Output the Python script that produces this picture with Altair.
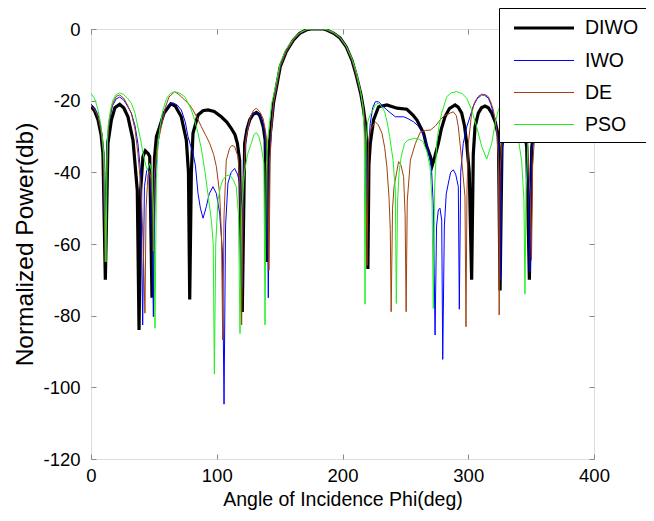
import altair as alt
import pandas as pd

names = ["DIWO", "IWO", "DE", "PSO"]
colors = ["#000000", "#0000ff", "#a0410d", "#22ee22"]
widths = [3.2, 1, 1, 1]

x_ticks = [0, 100, 200, 300, 400]
y_ticks = [-120, -100, -80, -60, -40, -20, 0]

main_x = [145.2, 147.6, 150.5, 155, 160.9, 166, 171.5, 175, 180, 185, 187.5, 193, 198, 203, 207.5, 211, 214.5]
main_y = [-20.5, -16, -10.5, -6.5, -3.1, -1.2, -0.2, 0, 0, 0, -0.3, -1.2, -2.5, -5, -8.7, -13, -18]

diwo_x = [0, 3, 5.6, 8, 9.5, 11.4, 13.5, 16.2, 19, 22.8, 26, 29.4, 33.4, 36.8, 38.2, 39.5, 41.3, 43.2, 45.5, 46.7,
          48.5, 50.5, 52, 54.6, 58, 63.5, 67, 71.8, 75.8, 77.5, 78.5, 79.8, 81.1, 85.1, 89, 93, 98, 103.6, 108, 111.5,
          114.5, 116.4, 118.2, 120.3, 122.2, 124, 126.2, 129, 131.6, 134, 135.4, 137, 138.5, 139.7, 140.8, 141.8] + main_x + [
          216.5, 218.5, 219.5, 220.2, 221, 222.1, 224.7, 228.7, 235.3, 243.3, 251.2, 256, 259.2, 264.5, 267, 269.8,
          271.4, 273.5, 276.2, 278.5, 281.5, 285, 289.5, 292, 294.8, 297, 298.8, 300.8, 302.7, 304, 305.4, 308, 310.5,
          313.3, 316, 318.7, 321.5, 324, 325.3, 326.8, 329, 333, 337, 341, 344, 346.5, 348.6, 350.5, 353, 356, 360]
diwo_y = [-21.5, -23, -25.4, -29.5, -34.7, -70, -31.9, -25.4, -22, -21, -22, -24.5, -31, -45, -84, -45, -35.6, -34, -34.8, -35.6,
          -75, -36, -30, -27.3, -23.5, -20.9, -21.5, -24.5, -31, -40, -75.5, -40, -29.1, -24, -22.8, -22.6, -23, -24.5, -26, -27.7,
          -29.5, -31.9, -36.6, -79, -31.9, -28, -25.4, -23.8, -23.3, -24, -25.4, -27.3, -31, -65, -36, -31.9] + main_y + [
          -22, -27, -35, -67, -38, -31.9, -25.4, -21.7, -21.2, -22.1, -22.4, -24, -25.4, -29.1, -32.8, -35.5,
          -38, -35.5, -31.9, -28, -24.5, -22.2, -21.2, -21.8, -23.5, -27, -31.9, -40, -70, -35, -27.3, -23.5, -22,
          -21.5, -22, -23.5, -26, -30, -73, -33, -25, -21.5, -21, -22.5, -26, -33, -70, -33, -26, -22.5, -21.5]

iwo_x = [0, 3, 5.6, 8, 9.8, 11, 12.5, 14.5, 17, 20, 22.8, 26, 29, 32.1, 35, 37.3, 39.5, 41.1, 42.5, 44.3, 45.5, 46.8,
         48.2, 49.6, 51, 53.3, 55.5, 58.6, 62, 65.2, 68.5, 71.8, 75, 77.1, 81.1, 83, 85.1, 87, 89.1, 91.7, 94, 97, 99.7,
         102.3, 104.5, 105.8, 107, 108.9, 111.5, 114.2, 116.5, 118.2, 119.5, 120.2, 121.5, 123.5, 125.5, 127.5, 131.5,
         134, 136.8, 138.8, 140, 141, 142, 143.2] + main_x + [
         216.5, 218, 219, 220.2, 222.1, 224, 226.1, 228.7, 232, 235.3, 242, 248.6, 252, 256.5, 260, 263.2, 266.5, 269.8,
         270.9, 272.3, 273.6, 274.8, 276.2, 277.5, 278.9, 279.7, 281, 282.5, 284.2, 286, 288.1, 290, 292.1, 292.9, 294,
         296, 298.8, 301.4, 304, 307, 310.7, 313, 316, 318, 320, 322, 324, 325.6, 327, 330, 334, 337, 341, 344.5, 347,
         349.1, 350.5, 353, 356.5, 360]
iwo_y = [-21, -22, -24, -28, -34, -62, -32, -26, -21.5, -19.5, -19, -19.8, -21.5, -23.5, -27, -31.9, -40, -82.6, -44, -39.5, -39, -41,
         -48, -80.3, -42, -31.9, -26, -22.6, -21, -20.6, -21.2, -22.6, -26, -30, -34.7, -38, -45.9, -50, -52.8, -49.6, -46, -44, -45.9,
         -51.4, -62, -104.7, -55, -43, -40, -38.9, -40.5, -43, -55, -72, -38, -30, -26, -24, -23.1,
         -24, -26.3, -31, -42, -75, -38, -30] + main_y + [
         -22, -30, -60, -35, -26.3, -22, -20.3, -20.3, -21.5, -22.6, -24.5, -24.5, -25, -25.9, -27, -28.7, -31.5, -36.6,
         -39.8, -50, -85.4, -55, -50.5, -50, -53.3, -92.2, -55, -46, -43, -40, -39.3, -40.5, -44, -78.2, -40,
         -32, -27.3, -24.5, -21.5, -19.5, -18.4, -18.5, -19.3, -21, -23.5, -26, -31.9, -70, -33, -24, -20.5, -20, -21.5, -26, -33,
         -67.7, -34, -26, -22, -21]

de_x = [0, 3, 5.6, 8, 9.8, 11.2, 12.8, 14.5, 17, 20, 22.8, 26, 29, 32.1, 35, 37.3, 39.8, 41.5, 42.9, 43.8, 45.3, 46.5,
        47.8, 48.8, 49.5, 50.5, 52.5, 55.9, 59, 62, 66.5, 70, 74.5, 78, 81.1, 84.5, 87.8, 91, 94.4, 97.5, 99.7, 102.3,
        103.8, 104.7, 105.8, 107.6, 110.2, 112, 114.2, 116.9, 118.5, 119.8, 121, 123, 126.5, 129, 131.5, 134, 136.8,
        139, 140.5, 141.5, 142.5, 143.5] + main_x + [
        216.5, 218.3, 219.5, 220.7, 222, 223.4, 226.1, 228.5, 231.4, 233.5, 235.3, 237, 238, 238.7, 239.8, 241, 242,
        244.6, 246.5, 248.6, 249.8, 250.6, 251.5, 254, 258, 262, 266, 270, 274, 277.5, 281, 285.5, 288.1, 290.5, 292.1,
        294.8, 297.4, 298.2, 299, 300.1, 302.7, 305, 308, 310.7, 313.5, 316, 318, 320, 322.5, 324, 324.6, 325.3, 327,
        330, 334, 337.5, 341, 344, 347, 349.2, 350.3, 351.2, 353, 356, 360]
de_y = [-21.5, -22.5, -24.5, -28.5, -34, -65, -32, -25.5, -21, -18.8, -18.4, -19.3, -21.2, -23.5, -28, -34.7, -45, -60, -79.3, -50, -40.7, -39.5,
        -42, -48, -62, -40, -33, -27.3, -22, -19, -17.5, -18.3, -19.8, -21, -22.6, -24.8, -27.3, -29.5, -31.9, -35, -38.4, -45.9,
        -58, -86.8, -52, -36.6, -33.3, -32.5, -32.8, -35.6, -44, -82.6, -44, -31, -24.9, -22.8, -22.1, -23, -24.9,
        -29, -38, -67.3, -36, -28] + main_y + [
        -21.5, -28, -66, -32, -28.5, -27.3, -25.9, -26.8, -29.1, -33, -38.4, -47, -56, -78.9, -50, -44, -42.1,
        -37, -38, -41.2, -52, -78.9, -48, -36.6, -31.9, -28.7, -28.3, -28.2, -27, -25.4, -24.2, -23.5, -23.1, -24.2, -27.3,
        -36.6, -46.8, -83.1, -45, -31.9, -23.5, -20.5, -18.8, -18.2, -18.3, -18.9, -20.5, -22.6, -28, -36.6, -79.8, -40, -30,
        -24, -20.5, -19.8, -21, -24, -31, -45, -64.5, -38, -29, -24, -21.5]

pso_x = [0, 3, 5.6, 8, 9.5, 10.8, 11.9, 12.8, 13.5, 15.5, 17.5, 20, 22.8, 26, 29, 32.1, 35, 37.3, 39.5, 41.4, 43.5, 44.8,
         46.7, 48.5, 49.8, 50.9, 52, 53.3, 55, 57.2, 60, 63, 66.5, 70, 74.5, 77, 79.8, 82.5, 85.1, 87.8, 90.4, 93, 95.7,
         97.2, 98.1, 99.2, 101, 103, 104.9, 107.5, 110.2, 113, 115.5, 117.3, 118.5, 119.8, 122, 124.5, 127.5, 129.5,
         131.5, 133.5, 135.4, 137.5, 138.4, 139.3, 140.5, 142, 143.5, 145.2, 147.6, 150.5, 155, 160.9, 166, 171.5, 175,
         180, 185, 188, 193, 198, 203, 207.5, 211, 214.5, 216.3, 217.3, 217.9, 218.7, 220, 221.6, 224.2, 226, 228.2, 231,
         233.5, 235.5, 237.5, 240.2, 242, 242.8, 243.8, 245, 246.7, 249.3, 252, 257.3, 260.5, 263.9, 267, 269.6, 271.2,
         272.2, 273.2, 274.9, 276.8, 278.9, 282.9, 286.5, 290.8, 295, 298.8, 302.7, 306.7, 310.7, 314.7, 318.7, 321.4,
         324, 327, 330, 333, 337, 340, 342.5, 344.3, 345.1, 346, 347.5, 350, 353, 356.5, 360]
pso_y = [-18, -19.5, -22.6, -27, -31.9, -40, -65, -36, -27.3, -22.5, -19.8, -18.3, -17.8, -18.3, -19.3, -20.7, -23.5, -27.3, -31, -34.7, -38, -39.3,
         -37.5, -40, -52, -83.5, -42, -31.9, -27, -22.6, -19.5, -18, -17.5, -17.8, -18.9, -20.5, -22.6, -25.5, -29.1, -33.5, -39.3, -46, -53.3,
         -60, -96.3, -60, -47.7, -44, -42.1, -41, -40.7, -42, -44, -52, -85, -50, -40, -35, -31.9, -29.5,
         -28.9, -30, -32.8, -37.5, -82.6, -40, -31, -26, -21, -18.5, -14.5, -9.5, -5.8, -2.8, -1.0, -0.1, 0,
         0, 0, -0.2, -1.0, -2.3, -4.8, -8.2, -12, -17.5, -22, -30, -76.8, -32, -26, -24.3, -22.6, -21.2, -20.7, -21.5,
         -23.1, -26, -30, -36.6, -45, -76.6, -48, -40, -35.6, -31.9, -31, -30.5, -30.7, -31.4, -34, -38.4, -48,
         -78, -45, -31.9, -27, -23.5, -18.9, -17.8, -17.5, -18, -19.3, -22.6, -27.3, -32.8, -36.3, -31.9, -26.3,
         -22.5, -20.5, -20.5, -22.5, -26, -31, -37, -48, -74, -45, -32, -25, -21, -19, -18]

series = {"DIWO": (diwo_x, diwo_y), "IWO": (iwo_x, iwo_y), "DE": (de_x, de_y), "PSO": (pso_x, pso_y)}
rows = []
for i, name in enumerate(names):
    xs, ys = series[name]
    for a, p in zip(xs, ys):
        rows.append({"method": name, "angle": a, "power": p, "k": i})
df = pd.DataFrame(rows)

font = "Liberation Sans, Arial, sans-serif"

legend = alt.Legend(
    title=None, orient="none", legendX=408, legendY=-21,
    strokeColor="black", fillColor="white", padding=8,
    symbolType="M-0.5,0H5.5", symbolSize=400, labelFont=font, labelFontSize=19.5,
    labelOffset=54, rowPadding=12, labelColor="black",
)

lines = alt.Chart(df).mark_line(clip=True).encode(
    x=alt.X("angle:Q", scale=alt.Scale(domain=[0, 400], nice=False),
            axis=alt.Axis(orient="bottom", values=x_ticks, domain=False, ticks=True, tickSize=5, offset=-5,
                          labelPadding=7, labelFlush=False, title="Angle of Incidence Phi(deg)", grid=False,
                          labelExpr="toString(datum.value)", labelFont=font, labelFontSize=18.5,
                          titleFont=font, titleFontSize=19.5, titleFontWeight="normal", titlePadding=6)),
    y=alt.Y("power:Q", scale=alt.Scale(domain=[-120, 0], nice=False),
            axis=alt.Axis(orient="left", values=y_ticks, domain=False, ticks=True, tickSize=5, offset=-5,
                          labelPadding=11, labelFlush=False, title="Normalized Power(db)", grid=False,
                          labelExpr="toString(datum.value)", labelFont=font, labelFontSize=18.5,
                          titleFont=font, titleFontSize=24.5, titleFontWeight="normal", titlePadding=5)),
    color=alt.Color("method:N", scale=alt.Scale(domain=names, range=colors), legend=legend),
    strokeWidth=alt.StrokeWidth("method:N", scale=alt.Scale(type="ordinal", domain=names, range=widths), legend=legend),
    order=alt.Order("angle:Q"),
)

frame = alt.Chart(df).mark_line(strokeOpacity=0).encode(
    x=alt.X("angle:Q", scale=alt.Scale(domain=[0, 400], nice=False),
            axis=alt.Axis(orient="top", values=x_ticks, domain=False, ticks=True, tickSize=5, offset=-5,
                          labels=False, title=None, grid=False)),
    y=alt.Y("power:Q", scale=alt.Scale(domain=[-120, 0], nice=False),
            axis=alt.Axis(orient="right", values=y_ticks, domain=False, ticks=True, tickSize=5, offset=-5,
                          labels=False, title=None, grid=False)),
    detail="method:N",
)

chart = alt.layer(frame, lines).resolve_axis(x="independent", y="independent").properties(
    width=503, height=430,
    autosize=alt.AutoSizeParams(type="none"),
    padding={"left": 83, "top": 21, "right": 52, "bottom": 55},
).configure_view(stroke="black", strokeWidth=1.2).configure_axis(
    labelColor="black", titleColor="black", tickColor="black", titleFontWeight="normal",
).configure(background="white")

chart.save("out.html", embed_options={"renderer": "svg", "actions": False})
